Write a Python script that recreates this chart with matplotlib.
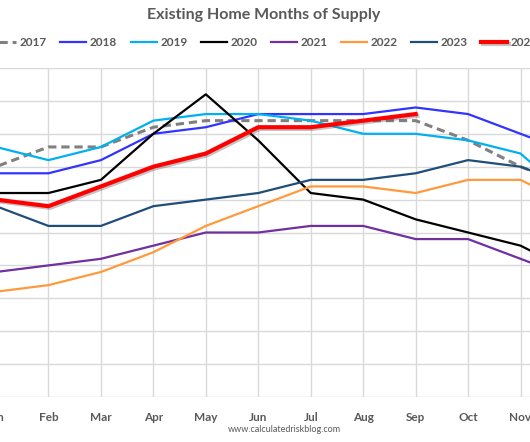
import matplotlib
matplotlib.use("Agg")
import matplotlib.pyplot as plt
import matplotlib.patheffects as pe

months = ["Jan", "Feb", "Mar", "Apr", "May", "Jun", "Jul", "Aug", "Sep", "Oct", "Nov", "Dec"]

s2017 = [3.5, 3.8, 3.8, 4.1, 4.2, 4.2, 4.2, 4.2, 4.2, 3.9, 3.5, 3.2]
s2018 = [3.4, 3.4, 3.6, 4.0, 4.1, 4.3, 4.3, 4.3, 4.4, 4.3, 4.0, 3.7]
s2019 = [3.8, 3.6, 3.8, 4.2, 4.3, 4.3, 4.2, 4.0, 4.0, 3.9, 3.7, 3.0]
s2020 = [3.1, 3.1, 3.3, 4.0, 4.6, 3.9, 3.1, 3.0, 2.7, 2.5, 2.3, 1.9]
s2021 = [1.9, 2.0, 2.1, 2.3, 2.5, 2.5, 2.6, 2.6, 2.4, 2.4, 2.1, 1.8]
s2022 = [1.6, 1.7, 1.9, 2.2, 2.6, 2.9, 3.2, 3.2, 3.1, 3.3, 3.3, 2.9]
s2023 = [2.9, 2.6, 2.6, 2.9, 3.0, 3.1, 3.3, 3.3, 3.4, 3.6, 3.5, 3.2]
s2024 = [3.0, 2.9, 3.2, 3.5, 3.7, 4.1, 4.1, 4.2, 4.3]

W, H = 530, 442
fig = plt.figure(figsize=(W / 100, H / 100), dpi=100)
fig.patch.set_facecolor("white")

left_px, right_px, top_px, bot_px = -4, 573, 68, 397
ax = fig.add_axes([left_px / W, 1 - bot_px / H, (right_px - left_px) / W, (bot_px - top_px) / H])

x = list(range(12))
ax.plot(x, s2017, color="#808080", lw=2.2, dashes=(2.7, 1.6), label="2017")
ax.plot(x, s2018, color="#3333FF", lw=1.6, label="2018")
ax.plot(x, s2019, color="#00B0F0", lw=1.6, label="2019")
ax.plot(x, s2020, color="#000000", lw=1.6, label="2020")
ax.plot(x, s2021, color="#7030A0", lw=1.6, label="2021")
ax.plot(x, s2022, color="#FF9A3C", lw=1.6, label="2022")
ax.plot(x, s2023, color="#1F4E79", lw=1.6, label="2023")
ax.plot(x[:len(s2024)], s2024, color="#FF0000", lw=3.0, label="2024",
        path_effects=[pe.SimpleLineShadow(offset=(1.2, -1.2), shadow_color="#555555", alpha=0.35),
                      pe.Normal()])

ax.set_xlim(0, 11)
ax.set_ylim(0, 5)
ax.set_yticks([i * 0.5 for i in range(11)])
ax.set_yticklabels([])
ax.set_xticks(x)
ax.set_xticklabels(months, fontfamily="Lato", fontweight="bold", fontsize=8.5, color="#595959")
ax.tick_params(length=0, pad=11)
ax.grid(True, color="#D9D9D9", lw=1.0)
ax.set_axisbelow(True)
for sp in ax.spines.values():
    sp.set_visible(False)

fig.text(0.497, 1 - 15 / H, "Existing Home Months of Supply", ha="center", va="center",
         fontfamily="Lato", fontweight="bold", fontsize=11.5, color="#595959")

leg = fig.legend(loc="center", bbox_to_anchor=(264 / W, 1 - 43 / H), ncol=8, frameon=False,
                 prop={"family": "Lato", "weight": "bold", "size": 8.5},
                 handlelength=2.2, handletextpad=0.3, columnspacing=1.15, borderpad=0)
for t in leg.get_texts():
    t.set_color("#595959")

fig.text(284 / W, 1 - 429 / H, "www.calculatedriskblog.com", ha="center", va="center",
         fontfamily="Lato", fontsize=6.5, color="#595959")

fig.savefig("out.png", dpi=100)
